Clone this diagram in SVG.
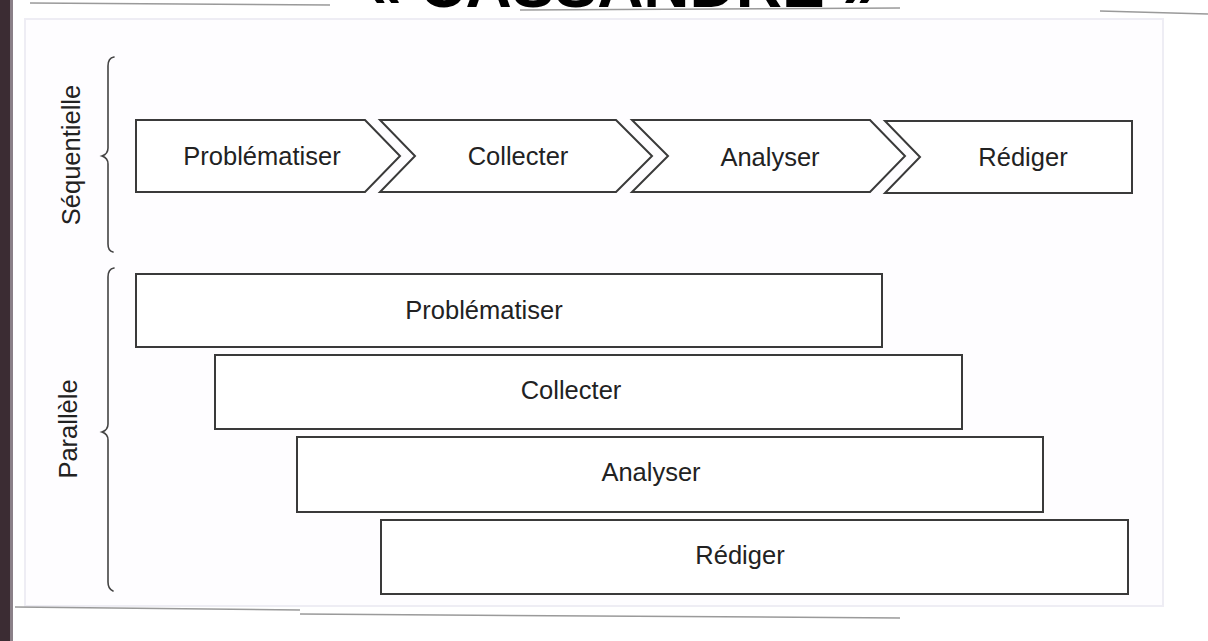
<svg xmlns="http://www.w3.org/2000/svg" width="1208" height="641" viewBox="0 0 1208 641">
<style>
.shape{fill:#ffffff;stroke:#3a3a3a;stroke-width:2;stroke-linejoin:miter}
.brace{fill:none;stroke:#444;stroke-width:1.6;stroke-linecap:round}
.lbl{font-family:"Liberation Sans",Arial,sans-serif;font-size:25.5px;fill:#222222;text-anchor:middle}
.scan{stroke:#9a9a9a;stroke-width:1.5;fill:none}
</style>
<rect x="0" y="0" width="1208" height="641" fill="#ffffff"/>
<rect x="0" y="0" width="10" height="641" fill="#3b2c33"/>
<rect x="10" y="0" width="3" height="641" fill="#8a8088"/>
<rect x="25" y="19" width="1138" height="587" fill="#fefdff" stroke="#eeedf4" stroke-width="2"/>
<text x="622" y="7" font-family="'Liberation Sans',Arial,sans-serif" font-size="64" font-weight="bold" fill="#000" text-anchor="middle">« CASSANDRE »</text>
<g id="scanlines">
<path class="scan" d="M30 3 L330 5 M520 10 L900 8 M1100 11 L1208 14 M15 607 L300 610 M300 614 L900 618"/>
</g>
<g id="connectors">
<path class="brace" d="M114 57 Q108 58 108 66 L108 148 Q108 154 102 156 Q108 158 108 164 L108 244 Q108 251 113 252"/>
<path class="brace" d="M114 268 Q108 269 108 277 L108 424 Q108 430 102 432 Q108 434 108 440 L108 582 Q108 589 113 591"/>
</g>
<g id="label-sequentielle"><text class="lbl" transform="translate(80,155) rotate(-90)">Séquentielle</text></g>
<g id="label-parallele"><text class="lbl" transform="translate(77,429) rotate(-90)">Parallèle</text></g>
<g id="seq-problematiser"><path class="shape" d="M136 120 L365 120 L400 156 L365 192 L136 192 Z"/><text class="lbl" x="262" y="165">Problématiser</text></g>
<g id="seq-collecter"><path class="shape" d="M380 120 L616 120 L652 156 L616 192 L380 192 L415 156 Z"/><text class="lbl" x="518" y="165">Collecter</text></g>
<g id="seq-analyser"><path class="shape" d="M632 120 L870 120 L905 156 L870 192 L632 192 L668 156 Z"/><text class="lbl" x="770" y="166">Analyser</text></g>
<g id="seq-rediger"><path class="shape" d="M885 121 L1132 121 L1132 193 L885 193 L920 157 Z"/><text class="lbl" x="1023" y="166">Rédiger</text></g>
<g id="par-problematiser"><rect class="shape" x="136" y="274" width="746" height="73"/><text class="lbl" x="484" y="319">Problématiser</text></g>
<g id="par-collecter"><rect class="shape" x="215" y="355" width="747" height="74"/><text class="lbl" x="571" y="399">Collecter</text></g>
<g id="par-analyser"><rect class="shape" x="297" y="437" width="746" height="75"/><text class="lbl" x="651" y="481">Analyser</text></g>
<g id="par-rediger"><rect class="shape" x="381" y="520" width="747" height="74"/><text class="lbl" x="740" y="564">Rédiger</text></g>
</svg>
